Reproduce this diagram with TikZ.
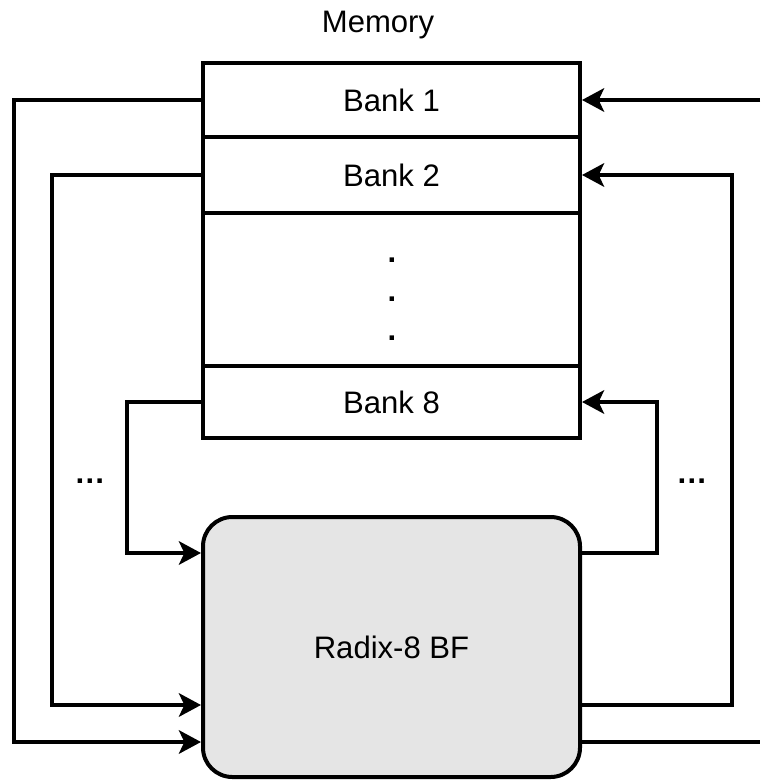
\documentclass[tikz,border=0pt]{standalone}
\usepackage{fontspec}
\setmainfont{Liberation Sans}
\usetikzlibrary{arrows.meta}
\begin{document}
\begin{tikzpicture}[x=0.75pt,y=-0.75pt,
  wire/.style={line width=3.2pt},
  arr/.style={wire,-{Stealth[length=16.5pt,width=17.5pt,inset=4pt]}},
  bankbox/.style={draw,line width=3pt,minimum width=282.75pt,inner sep=0pt,font=\fontsize{23.3pt}{28pt}\selectfont},
  lbl/.style={inner sep=0pt,font=\fontsize{23.3pt}{28pt}\selectfont}]
\useasboundingbox (0,0) rectangle (760,781);
% memory banks
\node[bankbox,minimum height=55.5pt] (bank1) at (391.5,100) {Bank 1};
\node[bankbox,minimum height=57pt] (bank2) at (391.5,175) {Bank 2};
\node[bankbox,minimum height=114.75pt] (mid) at (391.5,289.5) {};
\node[bankbox,minimum height=54pt] (bank8) at (391.5,402) {Bank 8};
\node[lbl,anchor=base] (mem) at (378,33) {Memory};
\node[lbl] (v1) at (392,260) {\textbf{.}};
\node[lbl] (v2) at (392,299) {\textbf{.}};
\node[lbl] (v3) at (392,338) {\textbf{.}};
% butterfly
\node[draw,line width=3pt,fill=black!10,rounded corners=22pt,minimum width=282.75pt,minimum height=195pt,inner sep=0pt,font=\fontsize{23.3pt}{28pt}\selectfont] (bf) at (391.5,647) {Radix-8 BF};
\node[lbl] (dl) at (90,481) {\textbf{…}};
\node[lbl] (dr) at (692,481) {\textbf{…}};
% left connectors
\coordinate (l1) at (14,742);
\coordinate (l2) at (52,705);
\coordinate (l8) at (127,553);
\draw[arr] (bank1.west) -| (l1) -- (l1 -| bf.west);
\draw[arr] (bank2.west) -| (l2) -- (l2 -| bf.west);
\draw[arr] (bank8.west) -| (l8) -- (l8 -| bf.west);
% right connectors
\coordinate (r1) at (760,100);
\coordinate (r2) at (732,705);
\coordinate (r8) at (657,553);
\coordinate (r0) at (760,742);
\draw[arr] (r1) -- (bank1.east);
\draw[arr] (r2 -| bf.east) -- (r2) |- (bank2.east);
\draw[arr] (r8 -| bf.east) -- (r8) |- (bank8.east);
\draw[wire] (r0 -| bf.east) -- (r0);
\end{tikzpicture}
\end{document}
